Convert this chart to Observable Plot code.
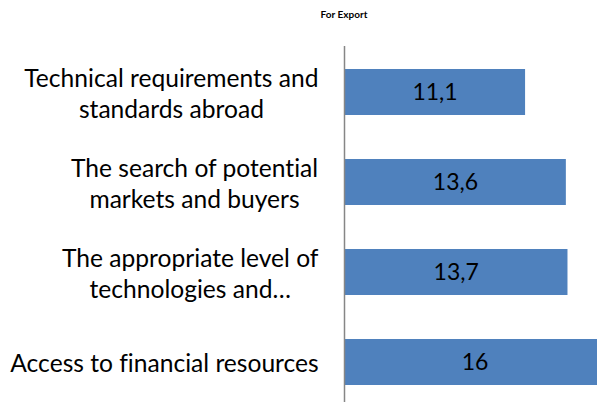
<!DOCTYPE html>
<html>
<head>
<meta charset="utf-8">
<script src="https://cdn.jsdelivr.net/npm/d3@7"></script>
<script src="https://cdn.jsdelivr.net/npm/@observablehq/plot@0.6"></script>
<style>
  html, body { margin: 0; padding: 0; background: white; overflow: hidden; }
  #wrap { position: relative; width: 597px; height: 402px; }
  #title { position: absolute; top: 8px; left: 244px; width: 200px; text-align: center;
           font-family: Lato, sans-serif; font-weight: bold; font-size: 10px; line-height: 12px; color: #000; }
  svg text { font-variant-ligatures: none; }
</style>
</head>
<body>
<div id="wrap"><div id="title">For Export</div></div>
<script>
const categories = [
  "Technical requirements and\nstandards abroad",
  "The search of potential\nmarkets and buyers",
  "The appropriate level of\ntechnologies and…",
  "Access to financial resources"
];
const values = [11.1, 13.6, 13.7, 16];
const valueLabels = ["11,1", "13,6", "13,7", "16"];

const data = categories.map((c, i) => ({category: c, value: values[i], label: valueLabels[i]}));

const labelSize = 24.6;
const ctx = document.createElement("canvas").getContext("2d");
ctx.font = `${labelSize}px Lato`;
const labelMarks = categories.map(c => {
  const w = Math.max(...c.split("\n").map(s => ctx.measureText(s).width));
  return Plot.text([c], {
    y: d => d, text: d => d, frameAnchor: "left", textAnchor: "middle",
    dx: -26 - w / 2, fontSize: labelSize, lineHeight: 1.26, fill: "#000"
  });
});

const chart = Plot.plot({
  width: 597, height: 402,
  marginLeft: 344, marginRight: 0, marginTop: 46, marginBottom: 0,
  x: {domain: [0, 16], range: [344, 605], axis: null},
  y: {domain: categories, range: [46, 407.2], paddingInner: 0.49, paddingOuter: 0.245, axis: null},
  style: {fontFamily: "Lato, sans-serif", background: "white", color: "#000"},
  marks: [
    Plot.barX(data, {x: "value", y: "category", fill: "#4F81BD"}),
    Plot.text(data, {x: d => d.value / 2, y: "category", text: "label", fontSize: 23, fill: "#000"}),
    Plot.ruleX([0], {stroke: "#868686", strokeWidth: 1.5}),
    ...labelMarks
  ]
});
document.getElementById("wrap").appendChild(chart);
</script>
</body>
</html>
